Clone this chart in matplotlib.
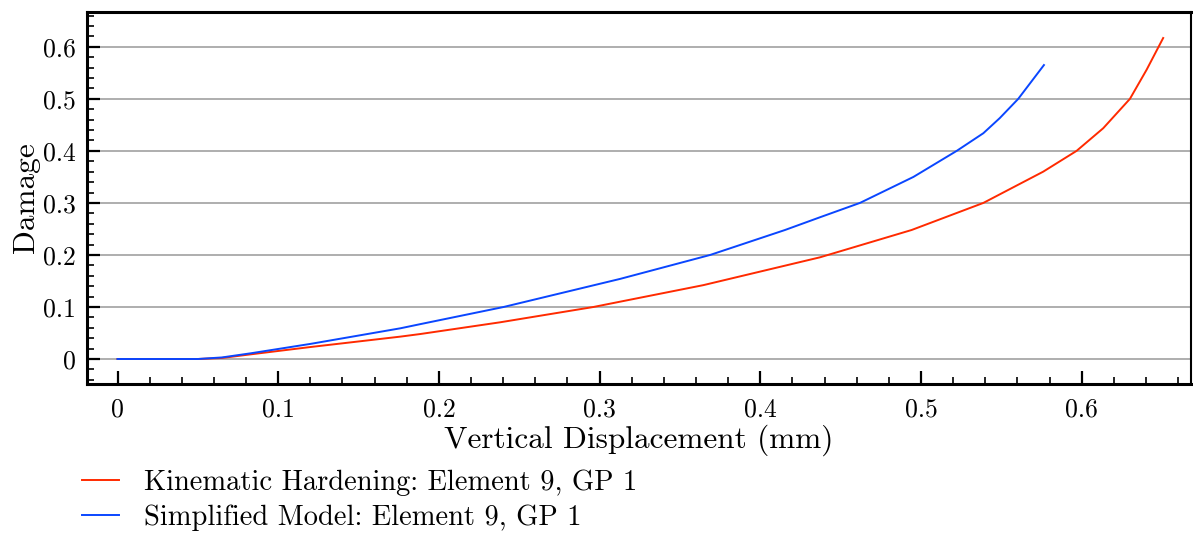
import numpy as np
import matplotlib
matplotlib.use("Agg")
import matplotlib.pyplot as plt
from matplotlib.ticker import MultipleLocator, FuncFormatter

plt.rcParams['font.family'] = 'serif'
plt.rcParams['font.serif'] = ['cmr10']
plt.rcParams['mathtext.fontset'] = 'cm'
plt.rcParams['axes.formatter.use_mathtext'] = True

# data
disp_kin = [0, 0.05, 0.065, 0.083, 0.12, 0.176, 0.1884, 0.238, 0.2962, 0.3646,
            0.4372, 0.4942, 0.5388, 0.576, 0.5968, 0.6134, 0.630, 0.6404, 0.6507]
dmg_kin = [0, 0, 0.002, 0.009, 0.023, 0.043, 0.048, 0.0705, 0.1, 0.142,
           0.1955, 0.248, 0.3, 0.36, 0.4, 0.4436, 0.5, 0.556, 0.617]

disp_simp = [0, 0.05, 0.065, 0.083, 0.12, 0.176, 0.1884, 0.2403, 0.3128, 0.3688,
             0.4154, 0.4372, 0.462, 0.4953, 0.5222, 0.5388, 0.549, 0.5605, 0.5765]
dmg_simp = [0, 0, 0.003, 0.011, 0.029, 0.059, 0.067, 0.1, 0.154, 0.2,
            0.248, 0.2725, 0.3, 0.35, 0.4, 0.434, 0.463, 0.5, 0.565]

labels = ["Kinematic Hardening: Element 9, GP 1", "Simplified Model: Element 9, GP 1"]

fig = plt.figure(figsize=(11.93, 5.33), dpi=100)
ax = fig.add_axes([0.0729, 0.2796, 0.9254, 0.6979])

ax.plot(disp_kin, dmg_kin, color='#ff2a00', lw=1.4, label=labels[0])
ax.plot(disp_simp, dmg_simp, color='#0a46ff', lw=1.4, label=labels[1])

ax.set_xlim(-0.019, 0.668)
ax.set_ylim(-0.048, 0.667)
ax.xaxis.set_major_locator(MultipleLocator(0.1))
ax.xaxis.set_minor_locator(MultipleLocator(0.02))
ax.yaxis.set_major_locator(MultipleLocator(0.1))
ax.yaxis.set_minor_locator(MultipleLocator(0.02))
fmt = FuncFormatter(lambda v, _: f'{v:.1f}'.rstrip('0').rstrip('.') if abs(v) > 1e-9 else '0')
ax.xaxis.set_major_formatter(fmt)
ax.yaxis.set_major_formatter(fmt)
ax.tick_params(which='both', direction='in', top=False, right=False, labelsize=18.5)
ax.tick_params(which='major', length=9.5, width=1.6)
ax.tick_params(which='minor', length=5, width=1.2)
ax.tick_params(axis='x', pad=10)
ax.tick_params(axis='y', pad=8)
ax.grid(axis='y', which='major', color='0.6', lw=1.1)
ax.set_axisbelow(True)

for s in ['left', 'top', 'bottom']:
    ax.spines[s].set_linewidth(2.2)
ax.spines['right'].set_linewidth(1.5)

ax.set_xlabel("Vertical Displacement (mm)", fontsize=22.5, labelpad=2)
ax.set_ylabel("Damage", fontsize=22.5, labelpad=2)

fig.legend(loc='upper left', bbox_to_anchor=(0.069, 0.12), frameon=False,
           fontsize=20.5, handlelength=1.3, handletextpad=0.85, labelspacing=0.3,
           borderaxespad=0, borderpad=0)

fig.savefig("out.png", dpi=100)
